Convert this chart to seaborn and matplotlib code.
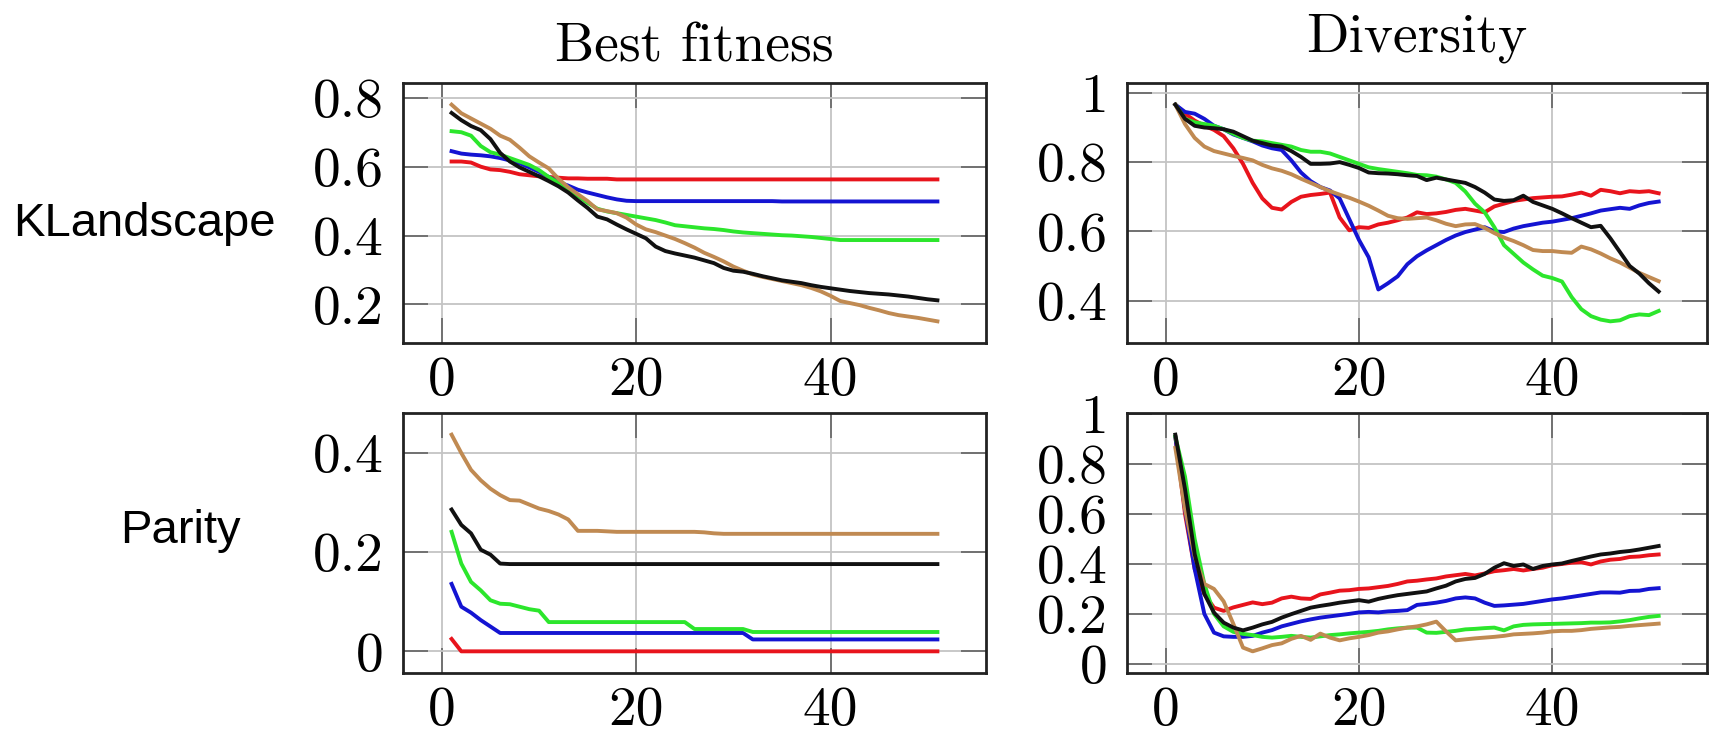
import numpy as np
import pandas as pd
import matplotlib
matplotlib.use("Agg")
import matplotlib.pyplot as plt
import seaborn as sns

# ---------------- data ----------------
generations = list(range(1, 52))
series_names = ["red", "blue", "green", "brown", "black"]
series_colors = {"red": "#e8141c", "blue": "#1414d2", "green": "#2ce62c",
                 "brown": "#c08a52", "black": "#111111"}

kl_fit_red = [0.615, 0.615, 0.612, 0.600, 0.592, 0.590, 0.585, 0.578, 0.575, 0.572,
              0.570, 0.568, 0.566, 0.566, 0.565, 0.565, 0.565, 0.563, 0.563, 0.563,
              0.563, 0.563, 0.563, 0.563, 0.563, 0.563, 0.563, 0.563, 0.563, 0.563,
              0.563, 0.563, 0.563, 0.563, 0.563, 0.563, 0.563, 0.563, 0.563, 0.563,
              0.563, 0.563, 0.563, 0.563, 0.563, 0.563, 0.563, 0.563, 0.563, 0.563, 0.563]
kl_fit_blue = [0.645, 0.638, 0.635, 0.633, 0.630, 0.625, 0.618, 0.610, 0.598, 0.585,
               0.570, 0.555, 0.545, 0.533, 0.525, 0.518, 0.511, 0.505, 0.501, 0.500,
               0.500, 0.500, 0.500, 0.500, 0.500, 0.500, 0.500, 0.500, 0.500, 0.500,
               0.500, 0.500, 0.500, 0.500, 0.499, 0.499, 0.499, 0.499, 0.499, 0.499,
               0.499, 0.499, 0.499, 0.499, 0.499, 0.499, 0.499, 0.499, 0.499, 0.499, 0.499]
kl_fit_green = [0.703, 0.700, 0.690, 0.660, 0.642, 0.635, 0.625, 0.615, 0.605, 0.590,
                0.570, 0.553, 0.535, 0.515, 0.495, 0.478, 0.470, 0.465, 0.460, 0.455,
                0.450, 0.445, 0.438, 0.430, 0.427, 0.424, 0.421, 0.419, 0.416, 0.412,
                0.409, 0.407, 0.405, 0.403, 0.401, 0.400, 0.398, 0.396, 0.393, 0.390,
                0.387, 0.387, 0.387, 0.387, 0.387, 0.387, 0.387, 0.387, 0.387, 0.387, 0.387]
kl_fit_brown = [0.780, 0.755, 0.740, 0.725, 0.710, 0.690, 0.678, 0.655, 0.630, 0.612,
                0.595, 0.565, 0.540, 0.520, 0.500, 0.476, 0.471, 0.465, 0.452, 0.432,
                0.418, 0.410, 0.400, 0.390, 0.378, 0.365, 0.350, 0.338, 0.325, 0.310,
                0.298, 0.287, 0.280, 0.274, 0.268, 0.262, 0.256, 0.248, 0.238, 0.225,
                0.210, 0.204, 0.198, 0.190, 0.183, 0.175, 0.169, 0.165, 0.161, 0.156, 0.151]
kl_fit_black = [0.756, 0.735, 0.718, 0.706, 0.680, 0.640, 0.615, 0.598, 0.585, 0.572,
                0.558, 0.543, 0.525, 0.502, 0.480, 0.455, 0.447, 0.432, 0.418, 0.405,
                0.392, 0.368, 0.355, 0.348, 0.342, 0.336, 0.328, 0.320, 0.306, 0.298,
                0.295, 0.289, 0.282, 0.276, 0.270, 0.266, 0.262, 0.256, 0.251, 0.247,
                0.243, 0.239, 0.236, 0.233, 0.231, 0.229, 0.226, 0.223, 0.219, 0.215, 0.212]

kl_div_red = [0.966, 0.940, 0.920, 0.905, 0.893, 0.875, 0.840, 0.795, 0.740, 0.695,
              0.668, 0.663, 0.685, 0.700, 0.705, 0.708, 0.712, 0.640, 0.603, 0.612,
              0.610, 0.620, 0.625, 0.632, 0.640, 0.655, 0.650, 0.652, 0.656, 0.662,
              0.665, 0.660, 0.655, 0.672, 0.680, 0.688, 0.692, 0.696, 0.698, 0.700,
              0.701, 0.706, 0.712, 0.703, 0.720, 0.716, 0.710, 0.716, 0.714, 0.716, 0.710]
kl_div_blue = [0.966, 0.945, 0.940, 0.925, 0.905, 0.895, 0.880, 0.870, 0.860, 0.848,
               0.840, 0.835, 0.805, 0.770, 0.745, 0.728, 0.718, 0.695, 0.635, 0.575,
               0.525, 0.432, 0.450, 0.470, 0.505, 0.528, 0.545, 0.560, 0.575, 0.588,
               0.598, 0.605, 0.612, 0.600, 0.598, 0.608, 0.615, 0.620, 0.625, 0.628,
               0.633, 0.638, 0.645, 0.652, 0.660, 0.664, 0.668, 0.665, 0.675, 0.682, 0.686]
kl_div_green = [0.966, 0.925, 0.915, 0.910, 0.905, 0.895, 0.882, 0.870, 0.862, 0.860,
                0.855, 0.850, 0.845, 0.835, 0.830, 0.830, 0.825, 0.815, 0.805, 0.795,
                0.785, 0.780, 0.776, 0.772, 0.768, 0.763, 0.762, 0.758, 0.750, 0.740,
                0.715, 0.680, 0.655, 0.612, 0.560, 0.535, 0.510, 0.490, 0.472, 0.465,
                0.455, 0.410, 0.375, 0.355, 0.345, 0.340, 0.343, 0.355, 0.360, 0.358, 0.370]
kl_div_brown = [0.966, 0.910, 0.870, 0.845, 0.832, 0.825, 0.818, 0.812, 0.805, 0.792,
                0.782, 0.775, 0.765, 0.752, 0.740, 0.728, 0.716, 0.706, 0.697, 0.686,
                0.674, 0.660, 0.645, 0.638, 0.636, 0.638, 0.640, 0.632, 0.622, 0.615,
                0.620, 0.621, 0.610, 0.595, 0.582, 0.572, 0.560, 0.546, 0.543, 0.543,
                0.540, 0.538, 0.556, 0.548, 0.536, 0.522, 0.510, 0.495, 0.480, 0.468, 0.456]
kl_div_black = [0.966, 0.925, 0.905, 0.900, 0.898, 0.895, 0.888, 0.875, 0.862, 0.855,
                0.848, 0.845, 0.832, 0.815, 0.795, 0.795, 0.796, 0.800, 0.792, 0.783,
                0.770, 0.768, 0.767, 0.765, 0.762, 0.760, 0.748, 0.755, 0.750, 0.745,
                0.740, 0.728, 0.712, 0.692, 0.688, 0.690, 0.703, 0.685, 0.675, 0.665,
                0.652, 0.638, 0.625, 0.612, 0.616, 0.580, 0.540, 0.500, 0.478, 0.450, 0.426]

par_fit_red = [0.025] + [0.0] * 50
par_fit_blue = [0.136, 0.090, 0.078, 0.063, 0.050, 0.037, 0.037, 0.037, 0.037, 0.037,
                0.037, 0.037, 0.037, 0.037, 0.037, 0.037, 0.037, 0.037, 0.037, 0.037,
                0.037, 0.037, 0.037, 0.037, 0.037, 0.037, 0.037, 0.037, 0.037, 0.037,
                0.037, 0.024, 0.024, 0.024, 0.024, 0.024, 0.024, 0.024, 0.024, 0.024,
                0.024, 0.024, 0.024, 0.024, 0.024, 0.024, 0.024, 0.024, 0.024, 0.024, 0.024]
par_fit_green = [0.241, 0.177, 0.140, 0.123, 0.103, 0.096, 0.095, 0.090, 0.085, 0.082,
                 0.059, 0.059, 0.059, 0.059, 0.059, 0.059, 0.059, 0.059, 0.059, 0.059,
                 0.059, 0.059, 0.059, 0.059, 0.059, 0.045, 0.045, 0.045, 0.045, 0.045,
                 0.045, 0.039, 0.039, 0.039, 0.039, 0.039, 0.039, 0.039, 0.039, 0.039,
                 0.039, 0.039, 0.039, 0.039, 0.039, 0.039, 0.039, 0.039, 0.039, 0.039, 0.039]
par_fit_brown = [0.437, 0.400, 0.366, 0.345, 0.328, 0.315, 0.305, 0.304, 0.296, 0.288,
                 0.283, 0.276, 0.266, 0.243, 0.243, 0.243, 0.242, 0.241, 0.241, 0.241,
                 0.241, 0.241, 0.241, 0.241, 0.241, 0.241, 0.240, 0.238, 0.237, 0.237,
                 0.237, 0.237, 0.237, 0.237, 0.237, 0.237, 0.237, 0.237, 0.237, 0.237,
                 0.237, 0.237, 0.237, 0.237, 0.237, 0.237, 0.237, 0.237, 0.237, 0.237, 0.237]
par_fit_black = [0.286, 0.255, 0.238, 0.205, 0.195, 0.177] + [0.176] * 45

par_div_red = [0.910, 0.600, 0.380, 0.280, 0.225, 0.212, 0.226, 0.236, 0.246, 0.239,
               0.245, 0.262, 0.269, 0.262, 0.260, 0.278, 0.285, 0.293, 0.295, 0.300,
               0.302, 0.307, 0.312, 0.320, 0.330, 0.333, 0.338, 0.342, 0.350, 0.355,
               0.360, 0.354, 0.362, 0.371, 0.375, 0.380, 0.374, 0.380, 0.385, 0.395,
               0.400, 0.405, 0.407, 0.398, 0.410, 0.417, 0.420, 0.428, 0.430, 0.435, 0.438]
par_div_blue = [0.910, 0.620, 0.380, 0.200, 0.125, 0.110, 0.108, 0.108, 0.112, 0.125,
                0.135, 0.150, 0.160, 0.170, 0.178, 0.185, 0.190, 0.195, 0.200, 0.206,
                0.208, 0.206, 0.210, 0.212, 0.215, 0.236, 0.240, 0.245, 0.252, 0.262,
                0.266, 0.262, 0.245, 0.232, 0.234, 0.237, 0.240, 0.246, 0.252, 0.258,
                0.262, 0.268, 0.274, 0.280, 0.286, 0.286, 0.285, 0.292, 0.293, 0.300, 0.303]
par_div_green = [0.910, 0.750, 0.500, 0.320, 0.200, 0.150, 0.128, 0.120, 0.115, 0.108,
                 0.105, 0.108, 0.112, 0.108, 0.105, 0.110, 0.115, 0.118, 0.122, 0.125,
                 0.128, 0.132, 0.138, 0.142, 0.145, 0.145, 0.125, 0.124, 0.128, 0.132,
                 0.138, 0.140, 0.143, 0.145, 0.134, 0.150, 0.156, 0.158, 0.159, 0.160,
                 0.161, 0.162, 0.163, 0.165, 0.165, 0.166, 0.170, 0.175, 0.182, 0.188, 0.192]
par_div_brown = [0.865, 0.620, 0.430, 0.320, 0.300, 0.250, 0.160, 0.065, 0.050, 0.062,
                 0.075, 0.082, 0.100, 0.112, 0.096, 0.121, 0.105, 0.094, 0.102, 0.108,
                 0.115, 0.125, 0.130, 0.138, 0.145, 0.150, 0.158, 0.169, 0.130, 0.094,
                 0.098, 0.102, 0.105, 0.108, 0.112, 0.118, 0.120, 0.122, 0.125, 0.130,
                 0.132, 0.132, 0.135, 0.140, 0.143, 0.146, 0.148, 0.152, 0.155, 0.158, 0.161]
par_div_black = [0.918, 0.700, 0.440, 0.280, 0.205, 0.165, 0.145, 0.134, 0.145, 0.158,
                 0.168, 0.185, 0.199, 0.212, 0.225, 0.232, 0.238, 0.245, 0.250, 0.255,
                 0.249, 0.260, 0.268, 0.275, 0.280, 0.285, 0.290, 0.302, 0.313, 0.330,
                 0.340, 0.344, 0.360, 0.385, 0.403, 0.392, 0.398, 0.380, 0.392, 0.398,
                 0.402, 0.412, 0.421, 0.430, 0.438, 0.442, 0.448, 0.452, 0.458, 0.465, 0.472]

col_titles = ["Best fitness", "Diversity"]
row_labels = ["KLandscape", "Parity"]
x_ticks = [0, 20, 40]
x_ticklabels = ["0", "20", "40"]
y_ticks = {
    (0, 0): ([0.2, 0.4, 0.6, 0.8], ["0.2", "0.4", "0.6", "0.8"]),
    (0, 1): ([0.4, 0.6, 0.8, 1.0], ["0.4", "0.6", "0.8", "1"]),
    (1, 0): ([0.0, 0.2, 0.4], ["0", "0.2", "0.4"]),
    (1, 1): ([0.0, 0.2, 0.4, 0.6, 0.8, 1.0], ["0", "0.2", "0.4", "0.6", "0.8", "1"]),
}

panels = {
    (0, 0): dict(red=kl_fit_red, blue=kl_fit_blue, green=kl_fit_green, brown=kl_fit_brown, black=kl_fit_black),
    (0, 1): dict(red=kl_div_red, blue=kl_div_blue, green=kl_div_green, brown=kl_div_brown, black=kl_div_black),
    (1, 0): dict(red=par_fit_red, blue=par_fit_blue, green=par_fit_green, brown=par_fit_brown, black=par_fit_black),
    (1, 1): dict(red=par_div_red, blue=par_div_blue, green=par_div_green, brown=par_div_brown, black=par_div_black),
}

# ---------------- figure ----------------
W, H = 1709, 734
fig = plt.figure(figsize=(W / 100, H / 100), dpi=100)
fig.patch.set_facecolor("white")

# axes boxes in pixels: left, right, top, bottom
boxes = {
    (0, 0): (403, 986, 83, 343),
    (0, 1): (1127, 1707, 83, 343),
    (1, 0): (403, 986, 413, 673),
    (1, 1): (1127, 1707, 413, 673),
}

CM = "cmr10"
tick_fs = 40

for key, (l, r, t, b) in boxes.items():
    ax = fig.add_axes([l / W, 1 - b / H, (r - l) / W, (b - t) / H])
    data = panels[key]
    rows = []
    for name in series_names:
        for g, v in zip(generations, data[name]):
            rows.append((g, v, name))
    df = pd.DataFrame(rows, columns=["generation", "value", "series"])
    sns.lineplot(data=df, x="generation", y="value", hue="series",
                 hue_order=series_names, palette=series_colors,
                 linewidth=2.8, legend=False, ax=ax, zorder=3)
    vals = df["value"].to_numpy()
    lo, hi = vals.min(), vals.max()
    pad = 0.1 * (hi - lo)
    ax.set_ylim(lo - pad, hi + pad)
    ax.set_xlim(1 - 5, 51 + 5)

    yt, ytl = y_ticks[key]
    ax.set_xticks(x_ticks)
    ax.set_xticklabels(x_ticklabels, fontfamily=CM, fontsize=tick_fs)
    ax.set_yticks(yt)
    ax.set_yticklabels(ytl, fontfamily=CM, fontsize=tick_fs)
    ax.set_xlabel("")
    ax.set_ylabel("")
    ax.grid(True, color="#c4c4c4", linewidth=1.3, zorder=0)
    ax.set_axisbelow(True)
    ax.tick_params(axis="both", which="major", direction="in", length=18, width=1.3,
                   color="#6a6a6a", top=True, right=True)
    ax.tick_params(axis="x", pad=10)
    ax.tick_params(axis="y", pad=14)
    for s in ax.spines.values():
        s.set_color("#222222")
        s.set_linewidth(2.0)
    ax.set_facecolor("white")

# column titles
fig.text(694.5 / W, 1 - 61.7 / H, col_titles[0], fontfamily=CM, fontsize=40,
         ha="center", va="baseline")
fig.text(1417 / W, 1 - 51.7 / H, col_titles[1], fontfamily=CM, fontsize=40,
         ha="center", va="baseline")

# row labels
fig.text(13 / W, 1 - 236 / H, row_labels[0], fontfamily=["Liberation Sans", "DejaVu Sans"],
         fontsize=34, ha="left", va="baseline")
fig.text(120.5 / W, 1 - 543 / H, row_labels[1], fontfamily=["Liberation Sans", "DejaVu Sans"],
         fontsize=34, ha="left", va="baseline")

fig.savefig("out.png", dpi=100, facecolor="white")
